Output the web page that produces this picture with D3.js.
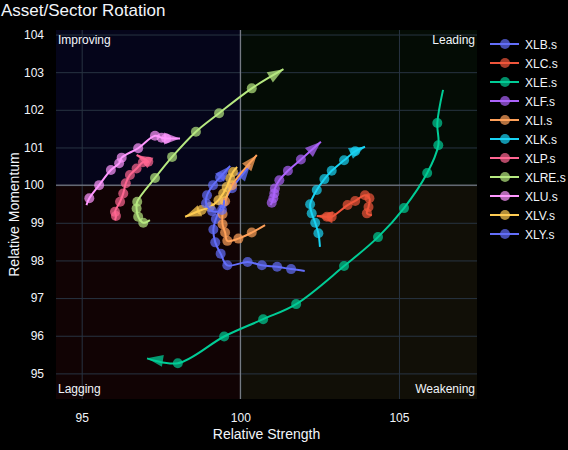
<!DOCTYPE html>
<html>
<head>
<meta charset="utf-8">
<script src="https://cdn.jsdelivr.net/npm/d3@7"></script>
<style>
  body { margin: 0; background: #000; }
  svg text { font-family: "Liberation Sans", Arial, sans-serif; fill: #f2f5fa; }
</style>
</head>
<body>
<div id="chart"></div>
<script>
// sector names and colours (plotly colorway)
var tickers = ["XLB.s", "XLC.s", "XLE.s", "XLF.s", "XLI.s", "XLK.s", "XLP.s", "XLRE.s", "XLU.s", "XLV.s", "XLY.s"];
var colors = ["#636efa", "#EF553B", "#00cc96", "#ab63fa", "#FFA15A", "#19d3f3", "#FF6692", "#B6E880", "#FF97FF", "#FECB52", "#636efa"];

// trails: relative strength (x) and relative momentum (y), oldest first
var XLB_rs  = [102.03, 101.60, 101.16, 100.68, 100.23, 99.59, 99.38, 99.21, 99.15, 99.23, 99.45, 99.74, 100.31];
var XLB_mom = [97.72, 97.77, 97.83, 97.87, 97.96, 97.87, 98.18, 98.48, 98.82, 99.10, 99.52, 99.92, 100.53];
var XLC_rs  = [104.15, 103.99, 104.04, 104.07, 103.93, 103.62, 103.38, 102.88, 102.73, 102.41];
var XLC_mom = [99.20, 99.25, 99.42, 99.65, 99.73, 99.58, 99.47, 99.16, 99.16, 99.18];
var XLE_rs  = [106.39, 106.21, 106.24, 105.89, 105.16, 104.34, 103.27, 101.76, 100.72, 99.49, 98.03, 97.06];
var XLE_mom = [102.53, 101.65, 101.06, 100.32, 99.39, 98.62, 97.85, 96.84, 96.44, 95.98, 95.27, 95.40];
var XLF_rs  = [100.95, 100.99, 101.04, 101.07, 101.09, 101.23, 101.50, 101.91, 102.54];
var XLF_mom = [99.47, 99.53, 99.65, 99.78, 99.91, 100.13, 100.38, 100.68, 101.15];
var XLI_rs  = [100.78, 100.36, 99.94, 99.59, 99.52, 99.44, 99.44, 99.52, 99.74, 100.52];
var XLI_mom = [98.94, 98.74, 98.58, 98.52, 98.74, 98.96, 99.23, 99.57, 100.00, 100.80];
var XLK_rs  = [102.51, 102.46, 102.36, 102.25, 102.20, 102.41, 102.65, 102.88, 103.27, 103.62, 103.93];
var XLK_mom = [98.36, 98.72, 99.00, 99.25, 99.49, 99.87, 100.16, 100.38, 100.66, 100.90, 101.02];
var XLP_rs  = [96.05, 96.08, 96.05, 96.21, 96.31, 96.39, 96.52, 96.73, 96.93, 97.10, 96.73];
var XLP_mom = [99.07, 99.18, 99.29, 99.56, 99.78, 100.05, 100.27, 100.44, 100.61, 100.62, 100.80];
var XLRE_rs  = [97.15, 96.94, 96.78, 96.73, 96.75, 97.31, 97.85, 98.60, 99.33, 100.36, 101.36];
var XLRE_mom = [99.07, 99.00, 99.16, 99.38, 99.56, 100.19, 100.75, 101.42, 101.91, 102.57, 103.08];
var XLU_rs  = [95.15, 95.24, 95.55, 95.92, 96.18, 96.26, 96.78, 97.31, 97.52, 97.66, 98.10];
var XLU_mom = [99.47, 99.65, 100.00, 100.40, 100.58, 100.73, 100.98, 101.31, 101.26, 101.24, 101.24];
var XLV_rs  = [99.90, 99.77, 99.68, 99.57, 99.46, 99.31, 99.04, 98.78, 98.26];
var XLV_mom = [100.48, 100.35, 100.18, 99.95, 99.78, 99.60, 99.42, 99.34, 99.16];
var XLY_rs  = [99.49, 99.42, 99.11, 98.92, 98.95, 99.14, 99.36, 99.68];
var XLY_mom = [99.60, 99.34, 99.31, 99.52, 99.73, 100.00, 100.21, 100.51];

var xTicks = [95, 100, 105];
var yTicks = [95, 96, 97, 98, 99, 100, 101, 102, 103, 104];
var quadrants = ["Improving", "Leading", "Lagging", "Weakening"];

var allRs = [XLB_rs, XLC_rs, XLE_rs, XLF_rs, XLI_rs, XLK_rs, XLP_rs, XLRE_rs, XLU_rs, XLV_rs, XLY_rs];
var allMom = [XLB_mom, XLC_mom, XLE_mom, XLF_mom, XLI_mom, XLK_mom, XLP_mom, XLRE_mom, XLU_mom, XLV_mom, XLY_mom];

var series = tickers.map(function(t, i) {
  return {name: t, color: colors[i], pts: allRs[i].map(function(v, j) { return [v, allMom[i][j]]; })};
});

var W = 568, H = 450;
var plotL = 56, plotR = 477, plotT = 30, plotB = 399;

var svg = d3.select("#chart").append("svg")
    .attr("width", W).attr("height", H)
    .style("background", "#000");

var x = d3.scaleLinear().domain([94.19, 107.46]).range([plotL, plotR]);
var y = d3.scaleLinear().domain([94.32, 104.12]).range([plotB, plotT]);

// quadrant backgrounds
var quadFill = ["#05051a", "#040c05", "#110304", "#110f07"];
var quadRect = [
  [x.domain()[0], 100, 100, y.domain()[1]],
  [100, x.domain()[1], 100, y.domain()[1]],
  [x.domain()[0], 100, y.domain()[0], 100],
  [100, x.domain()[1], y.domain()[0], 100]
];
svg.selectAll("rect.quad").data(quadRect).enter().append("rect")
    .attr("class", "quad")
    .attr("x", function(d) { return x(d[0]); })
    .attr("y", function(d) { return y(d[3]); })
    .attr("width", function(d) { return x(d[1]) - x(d[0]); })
    .attr("height", function(d) { return y(d[2]) - y(d[3]); })
    .attr("fill", function(d, i) { return quadFill[i]; });

// grid
svg.append("g")
    .attr("transform", "translate(0," + plotB + ")")
    .call(d3.axisBottom(x).tickValues(xTicks).tickSize(-(plotB - plotT)).tickFormat(""))
    .call(function(g) { g.select(".domain").remove(); })
    .selectAll("line").attr("stroke", "#283442");
svg.append("g")
    .attr("transform", "translate(" + plotL + ",0)")
    .call(d3.axisLeft(y).tickValues(yTicks).tickSize(-(plotR - plotL)).tickFormat(""))
    .call(function(g) { g.select(".domain").remove(); })
    .selectAll("line").attr("stroke", "#283442");

// centre lines at 100
svg.append("line")
    .attr("x1", x(100)).attr("x2", x(100)).attr("y1", plotT).attr("y2", plotB)
    .attr("stroke", "#8a8d96").attr("stroke-width", 1);
svg.append("line")
    .attr("x1", plotL).attr("x2", plotR).attr("y1", y(100)).attr("y2", y(100))
    .attr("stroke", "#8a8d96").attr("stroke-width", 1);

// tick labels
var xa = svg.append("g")
    .attr("transform", "translate(0," + (plotB + 8) + ")")
    .call(d3.axisBottom(x).tickValues(xTicks).tickSize(0).tickPadding(6));
xa.select(".domain").remove();
xa.selectAll("text").attr("font-size", 12).style("fill", "#f2f5fa");

var ya = svg.append("g")
    .attr("transform", "translate(" + (plotL - 12) + ",0)")
    .call(d3.axisLeft(y).tickValues(yTicks).tickSize(0).tickPadding(0));
ya.select(".domain").remove();
ya.selectAll("text").attr("font-size", 12).style("fill", "#f2f5fa");

// axis titles
svg.append("text")
    .attr("x", (plotL + plotR) / 2).attr("y", 439)
    .attr("text-anchor", "middle").attr("font-size", 14)
    .text("Relative Strength");
svg.append("text")
    .attr("transform", "translate(19," + ((plotT + plotB) / 2) + ") rotate(-90)")
    .attr("text-anchor", "middle").attr("font-size", 14)
    .text("Relative Momentum");

// title
svg.append("text")
    .attr("x", 1).attr("y", 16)
    .attr("font-size", 17)
    .text("Asset/Sector Rotation");

// quadrant labels
svg.append("text").attr("x", plotL + 2).attr("y", 44).attr("font-size", 12).text(quadrants[0]);
svg.append("text").attr("x", plotR - 2).attr("y", 44).attr("font-size", 12).attr("text-anchor", "end").text(quadrants[1]);
svg.append("text").attr("x", plotL + 2).attr("y", 393).attr("font-size", 12).text(quadrants[2]);
svg.append("text").attr("x", plotR - 2).attr("y", 393).attr("font-size", 12).attr("text-anchor", "end").text(quadrants[3]);

// trails
svg.append("clipPath").attr("id", "plotclip").append("rect")
    .attr("x", plotL).attr("y", plotT).attr("width", plotR - plotL).attr("height", plotB - plotT);
var plot = svg.append("g").attr("clip-path", "url(#plotclip)");

var line = d3.line()
    .x(function(d) { return x(d[0]); })
    .y(function(d) { return y(d[1]); })
    .curve(d3.curveCatmullRom.alpha(0.5));

series.forEach(function(s) {
  var g = plot.append("g");
  g.append("path")
      .attr("d", line(s.pts))
      .attr("fill", "none")
      .attr("stroke", s.color)
      .attr("stroke-width", 2);

  // markers, skip first (trail start) and last (arrow)
  g.selectAll("circle").data(s.pts.slice(1, -1)).enter().append("circle")
      .attr("cx", function(d) { return x(d[0]); })
      .attr("cy", function(d) { return y(d[1]); })
      .attr("r", 5)
      .attr("fill", s.color)
      .attr("fill-opacity", 0.7);

  // arrow head at latest point
  var n = s.pts.length;
  var p1 = s.pts[n - 2], p2 = s.pts[n - 1];
  var ang = Math.atan2(y(p2[1]) - y(p1[1]), x(p2[0]) - x(p1[0])) * 180 / Math.PI;
  g.append("path")
      .attr("d", "M0,0L-16,-6L-16,6Z")
      .attr("transform", "translate(" + x(p2[0]) + "," + y(p2[1]) + ") rotate(" + ang + ")")
      .attr("fill", s.color)
      .attr("fill-opacity", 0.75);
});

// legend
var legend = svg.append("g").attr("transform", "translate(490,44)");
var item = legend.selectAll("g").data(series).enter().append("g")
    .attr("transform", function(d, i) { return "translate(0," + (i * 19) + ")"; });
item.append("line")
    .attr("x1", 0).attr("x2", 29).attr("y1", 0).attr("y2", 0)
    .attr("stroke", function(d) { return d.color; }).attr("stroke-width", 2);
item.append("circle")
    .attr("cx", 15).attr("cy", 0).attr("r", 5)
    .attr("fill", function(d) { return d.color; }).attr("fill-opacity", 0.7);
item.append("text")
    .attr("x", 35).attr("y", 4.5)
    .attr("font-size", 12)
    .text(function(d) { return d.name; });
</script>
</body>
</html>
